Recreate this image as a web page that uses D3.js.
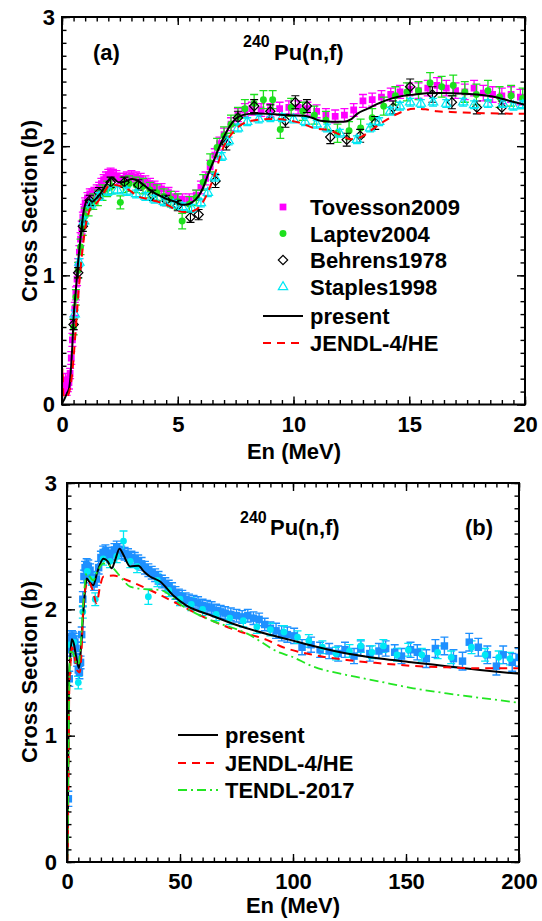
<!DOCTYPE html>
<html>
<head>
<meta charset="utf-8">
<script src="https://cdn.jsdelivr.net/npm/d3@7"></script>
<style>
body { margin: 0; background: #fff; }
text { font-family: "Liberation Sans", Arial, sans-serif; font-weight: bold; }
</style>
</head>
<body>
<div id="chart"></div>
<script>
// ---------- panel (a): 240Pu(n,f) up to 20 MeV ----------
var xTicksA = [0, 5, 10, 15, 20];
var yTicksA = [0, 1, 2, 3];

var tovE = [0.05,0.1,0.15,0.2,0.25,0.3,0.35,0.4,0.45,0.5,
  0.55,0.6,0.65,0.7,0.75,0.8,0.85,0.9,0.95,1.0,
  1.1,1.2,1.3,1.4,1.5,1.6,1.7,1.8,1.9,2.0,
  2.1,2.2,2.35,2.5,2.65,2.8,3.0,3.2,3.4,3.6,
  3.8,4.0,4.3,4.6,4.9,5.2,5.5,5.8,6.0,6.2,
  6.4,6.6,6.8,7.0,7.3,7.6,7.9,8.2,8.6,9.0,
  9.4,9.8,10.2,10.6,11.0,11.4,11.8,12.2,12.6,13.0,
  13.4,13.8,14.2,14.6,15.0,15.4,15.8,16.2,16.6,17.0,
  17.4,17.8,18.2,18.6,19.0,19.4,19.8];
var tovS = [0.15,0.12,0.19,0.11,0.15,0.17,0.24,0.36,0.50,0.63,
  0.74,0.86,0.97,1.08,1.18,1.28,1.37,1.45,1.51,1.56,
  1.60,1.63,1.63,1.64,1.66,1.68,1.71,1.74,1.76,1.78,
  1.79,1.78,1.77,1.75,1.75,1.76,1.77,1.76,1.75,1.73,
  1.71,1.69,1.67,1.64,1.61,1.59,1.59,1.62,1.68,1.75,
  1.84,1.93,2.02,2.09,2.17,2.24,2.28,2.29,2.28,2.28,
  2.29,2.30,2.30,2.29,2.27,2.24,2.23,2.24,2.28,2.35,
  2.36,2.38,2.40,2.42,2.44,2.43,2.45,2.47,2.45,2.43,
  2.42,2.45,2.41,2.40,2.39,2.40,2.38];
var tovErr = [0.05,0.04,0.05,0.04,0.05,0.05,0.04,0.05,0.05,0.05,
  0.05,0.05,0.05,0.05,0.05,0.05,0.05,0.04,0.04,0.04,
  0.04,0.04,0.04,0.04,0.04,0.04,0.04,0.04,0.04,0.04,
  0.04,0.04,0.04,0.04,0.04,0.04,0.04,0.04,0.04,0.04,
  0.04,0.04,0.04,0.04,0.04,0.04,0.04,0.04,0.05,0.05,
  0.05,0.05,0.05,0.05,0.05,0.05,0.05,0.05,0.05,0.05,
  0.05,0.05,0.05,0.05,0.05,0.05,0.05,0.05,0.05,0.05,
  0.05,0.05,0.05,0.05,0.05,0.06,0.06,0.06,0.06,0.06,
  0.06,0.06,0.06,0.06,0.06,0.06,0.06];

var lapE = [0.5,0.6,0.7,0.8,0.9,1.0,1.15,1.35,1.55,1.75,
  1.95,2.15,2.52,2.65,2.9,3.2,3.5,3.8,4.1,4.4,
  4.7,5.0,5.19,5.5,5.8,6.1,6.4,6.7,7.0,7.3,
  7.6,7.9,8.3,8.7,9.1,9.43,9.9,10.4,10.9,11.4,
  11.9,12.4,12.9,13.4,13.9,14.4,14.9,15.4,15.9,16.4,
  16.9,17.4,17.9,18.4,18.9,19.4,19.9];
var lapS = [0.60,0.83,1.04,1.22,1.37,1.46,1.52,1.57,1.60,1.64,
  1.67,1.69,1.565,1.70,1.71,1.70,1.69,1.66,1.64,1.61,
  1.59,1.57,1.42,1.55,1.60,1.72,1.87,1.99,2.08,2.17,
  2.23,2.29,2.33,2.36,2.36,2.13,2.30,2.27,2.24,2.20,
  2.10,2.12,2.14,2.22,2.31,2.39,2.42,2.43,2.49,2.46,
  2.47,2.42,2.40,2.43,2.38,2.39,2.37];
var lapErr = [0.06,0.06,0.06,0.06,0.06,0.06,0.06,0.06,0.06,0.06,
  0.06,0.06,0.05,0.06,0.06,0.06,0.06,0.06,0.06,0.06,
  0.06,0.06,0.06,0.06,0.06,0.06,0.07,0.07,0.07,0.07,
  0.07,0.07,0.07,0.07,0.07,0.07,0.07,0.07,0.07,0.07,
  0.07,0.07,0.07,0.07,0.07,0.07,0.07,0.07,0.08,0.08,
  0.08,0.08,0.08,0.08,0.08,0.08,0.08];

var behE = [0.5,0.7,0.9,1.2,1.6,2.1,2.7,3.3,3.9,4.5,
  5.0,5.55,5.9,6.63,7.1,7.6,8.3,9.0,9.65,10.08,
  10.58,11.59,12.3,12.88,13.53,14.3,15.04,16.0,16.84,17.92,19.0];
var behS = [0.62,1.02,1.38,1.58,1.64,1.72,1.72,1.70,1.62,1.58,
  1.54,1.45,1.47,1.73,2.02,2.22,2.31,2.27,2.196,2.34,
  2.31,2.07,2.05,2.08,2.18,2.30,2.46,2.40,2.34,2.30,2.30];
var behErr = [0.04,0.04,0.04,0.04,0.04,0.04,0.04,0.04,0.04,0.04,
  0.04,0.04,0.04,0.05,0.05,0.05,0.05,0.05,0.05,0.05,
  0.05,0.05,0.05,0.05,0.05,0.05,0.06,0.06,0.05,0.05,0.05];

var staE = [0.55,0.75,0.95,1.25,1.6,2.0,2.4,2.8,3.2,3.6,
  4.0,4.4,4.8,5.2,5.6,6.0,6.3,6.6,6.9,7.2,
  7.6,8.0,8.5,9.0,9.5,10.0,10.5,11.0,11.45,12.0,
  12.74,13.31,13.7,14.18,14.6,15.04,15.5,16.03,16.6,17.33,
  17.8,18.4,19.05,19.5,19.9];
var staS = [0.70,1.10,1.42,1.55,1.61,1.65,1.66,1.65,1.63,1.61,
  1.59,1.57,1.55,1.53,1.52,1.56,1.64,1.76,1.92,2.04,
  2.14,2.19,2.21,2.22,2.22,2.21,2.19,2.17,2.14,2.10,
  2.05,2.14,2.19,2.27,2.31,2.34,2.33,2.34,2.33,2.34,
  2.32,2.33,2.33,2.31,2.32];
var staErr = [0.03,0.03,0.03,0.03,0.03,0.03,0.03,0.03,0.03,0.03,
  0.03,0.03,0.03,0.03,0.03,0.03,0.03,0.03,0.03,0.03,
  0.03,0.03,0.03,0.03,0.03,0.03,0.03,0.03,0.03,0.03,
  0.03,0.03,0.03,0.03,0.03,0.03,0.03,0.03,0.03,0.03,
  0.03,0.03,0.03,0.03,0.03];

var presAE = [0,0.1,0.22,0.3,0.45,0.5,0.6,0.7,0.8,0.94,
  1.02,1.08,1.16,1.3,1.45,1.65,1.9,2.16,2.3,2.45,
  2.7,3.03,3.3,3.6,3.96,4.3,4.54,4.9,5.19,5.45,
  5.62,5.91,6.1,6.26,6.55,6.91,7.2,7.49,7.8,8.07,
  8.5,8.92,9.3,9.65,10.0,10.43,10.8,11.16,11.6,12.17,
  12.5,12.75,13.2,13.75,14.25,14.75,15.25,15.76,16.3,16.91,
  17.4,17.92,18.6,19.35,20];
var presAS = [0.01,0.04,0.09,0.12,0.47,0.67,0.89,1.11,1.29,1.5,
  1.56,1.58,1.59,1.57,1.59,1.63,1.70,1.757,1.74,1.72,
  1.725,1.745,1.73,1.69,1.64,1.61,1.59,1.57,1.546,1.55,
  1.565,1.616,1.68,1.757,1.886,2.04,2.14,2.21,2.24,2.25,
  2.252,2.25,2.245,2.24,2.238,2.235,2.22,2.196,2.19,2.19,
  2.21,2.25,2.29,2.337,2.37,2.39,2.40,2.41,2.412,2.41,
  2.405,2.40,2.385,2.35,2.32];

var jendlAE = [0,0.02,0.06,0.12,0.2,0.3,0.4,0.5,0.6,0.7,
  0.8,0.9,1.0,1.1,1.23,1.45,1.75,2.01,2.3,2.53,
  2.9,3.24,3.7,4.25,4.6,4.97,5.3,5.69,6.12,6.55,
  6.97,7.35,7.78,8.3,8.92,9.28,9.8,10.3,10.87,11.59,
  12.0,12.46,12.9,13.33,13.8,14.32,14.75,15.18,15.7,16.2,
  16.8,17.34,18.33,19.2,20];
var jendlAS = [0.0,0.28,0.08,0.05,0.06,0.09,0.18,0.36,0.60,0.84,
  1.05,1.22,1.36,1.45,1.52,1.55,1.62,1.69,1.70,1.69,
  1.66,1.615,1.59,1.564,1.54,1.50,1.49,1.50,1.577,1.757,
  1.99,2.10,2.17,2.20,2.21,2.21,2.20,2.18,2.14,2.12,
  2.09,2.054,2.07,2.12,2.18,2.235,2.27,2.29,2.285,2.27,
  2.265,2.26,2.255,2.252,2.25];

// ---------- panel (b): 240Pu(n,f) up to 200 MeV ----------
var xTicksB = [0, 50, 100, 150, 200];
var yTicksB = [0, 1, 2, 3];

var blueE = [0.6,1.0,1.4,1.8,2.2,2.6,3.0,3.5,4.0,4.5,
  5.0,5.5,6.0,6.5,7.0,7.5,8.0,8.7,9.4,10.2,
  11,12,13,14,15,16,17,18,19,20,
  21,22,23,24,25.5,27,28.5,30,31.5,33,
  34.5,36,37.5,39,40.5,42,43.5,45,46.5,48,
  49.5,51,52.5,54,56,58,60,62,64,66,
  68,70,72.5,75,77.5,80,82.5,85,87.5,90,
  92.5,95,97.5,100.5,104,108,112,116,120,123,
  127,130,134,138,141,145,148,152,155,159,
  163,167,171,175,178,182,186,190,193,197,200];
var blueS = [0.5,1.45,1.68,1.76,1.78,1.77,1.76,1.74,1.69,1.60,
  1.52,1.50,1.58,1.80,2.08,2.26,2.33,2.35,2.34,2.31,
  2.25,2.20,2.24,2.33,2.41,2.45,2.46,2.44,2.42,2.44,
  2.47,2.49,2.47,2.45,2.44,2.43,2.41,2.40,2.38,2.36,
  2.33,2.31,2.29,2.27,2.25,2.22,2.20,2.18,2.16,2.13,
  2.11,2.10,2.08,2.07,2.06,2.05,2.03,2.02,2.01,1.99,
  1.98,1.97,1.96,1.95,1.94,1.95,1.93,1.92,1.88,1.85,
  1.83,1.81,1.80,1.79,1.70,1.72,1.68,1.67,1.65,1.68,
  1.63,1.69,1.65,1.67,1.69,1.66,1.63,1.68,1.66,1.61,
  1.69,1.71,1.61,1.59,1.74,1.70,1.64,1.55,1.64,1.58,1.62];
var blueErr = [0.06,0.06,0.05,0.05,0.05,0.05,0.05,0.05,0.05,0.05,
  0.05,0.05,0.05,0.06,0.06,0.05,0.05,0.05,0.05,0.05,
  0.05,0.05,0.05,0.05,0.05,0.05,0.05,0.05,0.05,0.05,
  0.05,0.05,0.05,0.05,0.05,0.05,0.05,0.05,0.05,0.05,
  0.05,0.05,0.05,0.05,0.05,0.05,0.05,0.05,0.05,0.05,
  0.05,0.05,0.05,0.05,0.05,0.05,0.05,0.05,0.05,0.05,
  0.05,0.05,0.05,0.05,0.05,0.05,0.05,0.05,0.05,0.05,
  0.06,0.06,0.06,0.06,0.06,0.06,0.06,0.06,0.06,0.06,
  0.06,0.06,0.06,0.06,0.06,0.06,0.06,0.06,0.06,0.07,
  0.07,0.07,0.07,0.07,0.07,0.07,0.07,0.07,0.07,0.07,0.07];

var cyanE = [1.5,3,5,7,9,11,12.5,16,19,22,
  25,28,31,36,40,45,50,55,60,66,
  72,78,84,90,96,102,107,113,119,125,
  130,135,140,146,151,157,164,170,179,185,191,196];
var cyanS = [1.72,1.74,1.42,1.98,2.30,2.24,2.08,2.40,2.38,2.42,
  2.54,2.38,2.34,2.10,2.23,2.15,2.08,2.04,2.00,1.96,
  1.93,1.91,1.86,1.84,1.82,1.78,1.75,1.70,1.65,1.67,
  1.71,1.66,1.71,1.64,1.68,1.64,1.66,1.62,1.70,1.64,1.62,1.61];
var cyanErr = [0.05,0.05,0.05,0.05,0.05,0.05,0.05,0.05,0.05,0.05,
  0.08,0.05,0.05,0.06,0.05,0.05,0.05,0.05,0.05,0.05,
  0.05,0.05,0.05,0.05,0.05,0.05,0.05,0.05,0.05,0.05,
  0.05,0.05,0.05,0.05,0.05,0.05,0.05,0.05,0.05,0.05,0.05,0.05];

var presBE = [0,0.3,0.5,0.8,1.0,1.3,2.07,3.0,4.0,5.3,
  6.3,7.2,8.0,8.7,9.8,11.6,13.5,16.1,18.0,19.8,
  21.5,23.2,25.0,27.9,31.6,34.0,36.7,41.2,47,52.9,
  63.3,75,88.4,98.7,109,123.8,138.5,153.2,168,182.7,200];
var presBS = [0,0.12,0.67,1.29,1.52,1.58,1.763,1.73,1.63,1.535,
  1.72,1.97,2.15,2.245,2.22,2.19,2.30,2.40,2.38,2.325,
  2.40,2.48,2.43,2.34,2.345,2.30,2.26,2.22,2.11,2.03,
  1.955,1.876,1.805,1.758,1.71,1.65,1.61,1.58,1.55,1.52,1.49];

var jendlBE = [0,0.3,0.6,1.0,1.5,2.2,3.2,4.6,5.6,6.3,
  7.2,8.2,9.4,11.2,13.1,14.6,16.1,20.5,26.4,36.7,
  48.5,63.3,76.5,88.4,94.2,109,123.8,138.5,153.2,168,182.7,200];
var jendlBS = [0,0.1,0.6,1.36,1.55,1.70,1.63,1.515,1.50,1.62,
  2.02,2.17,2.22,2.16,2.048,2.18,2.259,2.267,2.232,2.153,
  2.048,1.916,1.824,1.758,1.71,1.639,1.599,1.573,1.552,1.541,1.533,1.533];

var tendlBE = [0,0.3,0.7,1.33,2.5,3.5,5.0,6.0,7.2,8.7,
  10.0,11.6,13.5,16.1,20.5,24,27.9,34,41.2,51.5,
  63.3,79.5,94.2,98.7,109,123.8,138.5,153.2,168,182.7,200];
var tendlBS = [0,0.15,0.9,1.665,1.66,1.60,1.56,1.70,2.048,2.285,
  2.26,2.23,2.30,2.364,2.325,2.25,2.18,2.16,2.153,2.022,
  1.916,1.81,1.657,1.63,1.547,1.48,1.428,1.375,1.335,1.30,1.261];

// ---------- drawing ----------
var W = 542, H = 921;
var FS = 22;
var svg = d3.select("#chart").append("svg")
  .attr("width", W).attr("height", H)
  .style("background", "#fff");

function rows(E, S, err) {
  var n = Math.min(E.length, S.length);
  var out = [];
  for (var i = 0; i < n; i++) out.push({ e: E[i], s: S[i], d: err ? err[i] : 0 });
  return out;
}

function makePanel(id, box, xDom, yDom, xMajor, xMinorStep, yMajor, ypad) {
  var w = box.r - box.l, h = box.b - box.t;
  var g = svg.append("g").attr("transform", "translate(" + box.l + "," + box.t + ")");
  var x = d3.scaleLinear().domain(xDom).range([0, w]);
  var y = d3.scaleLinear().domain(yDom).range([h, 0]);

  g.append("clipPath").attr("id", id).append("rect")
    .attr("width", w).attr("height", h);

  var xMinor = d3.range(xDom[0], xDom[1] + 1e-9, xMinorStep);
  var yMinor = d3.range(0, 3.0001, 0.1);

  function axisStyle(sel) {
    sel.select(".domain").remove();
    sel.selectAll("line").attr("stroke", "#000").attr("stroke-width", 1.4);
    sel.attr("font-size", FS).attr("font-family", "Liberation Sans, Arial, sans-serif")
      .attr("font-weight", "bold");
    sel.selectAll("text").attr("fill", "#000");
  }
  // minor ticks on four sides
  g.append("g").attr("transform", "translate(0," + h + ")")
    .call(d3.axisBottom(x).tickValues(xMinor).tickSize(-4.5).tickFormat("")).call(axisStyle);
  g.append("g")
    .call(d3.axisTop(x).tickValues(xMinor).tickSize(-4.5).tickFormat("")).call(axisStyle);
  g.append("g")
    .call(d3.axisLeft(y).tickValues(yMinor).tickSize(-4.5).tickFormat("")).call(axisStyle);
  g.append("g").attr("transform", "translate(" + w + ",0)")
    .call(d3.axisRight(y).tickValues(yMinor).tickSize(-4.5).tickFormat("")).call(axisStyle);
  // major ticks
  g.append("g").attr("transform", "translate(0," + h + ")")
    .call(d3.axisBottom(x).tickValues(xMajor).tickSize(-8).tickPadding(ypad.x).tickFormat(d3.format("d"))).call(axisStyle);
  g.append("g")
    .call(d3.axisTop(x).tickValues(xMajor).tickSize(-8).tickFormat("")).call(axisStyle);
  g.append("g")
    .call(d3.axisLeft(y).tickValues(yMajor).tickSize(-8).tickPadding(ypad.y).tickFormat(d3.format("d"))).call(axisStyle);
  g.append("g").attr("transform", "translate(" + w + ",0)")
    .call(d3.axisRight(y).tickValues(yMajor).tickSize(-8).tickFormat("")).call(axisStyle);

  var plot = g.append("g").attr("clip-path", "url(#" + id + ")");
  var over = g.append("g");
  over.append("rect").attr("width", w).attr("height", h)
    .attr("fill", "none").attr("stroke", "#000").attr("stroke-width", 2);

  return { g: g, plot: plot, x: x, y: y, w: w, h: h };
}

function errorBars(p, data, color, cap, sw) {
  p.plot.append("g").selectAll("path").data(data).enter().append("path")
    .attr("fill", "none").attr("stroke", color).attr("stroke-width", sw || 1.3)
    .attr("d", function (d) {
      var cx = p.x(d.e), y1 = p.y(d.s - d.d), y2 = p.y(d.s + d.d);
      return "M" + cx + "," + y1 + "V" + y2 +
        "M" + (cx - cap) + "," + y1 + "H" + (cx + cap) +
        "M" + (cx - cap) + "," + y2 + "H" + (cx + cap);
    });
}

function markers(p, data, sym, size, fill, stroke, rot) {
  p.plot.append("g").selectAll("path").data(data).enter().append("path")
    .attr("d", d3.symbol().type(sym).size(size))
    .attr("transform", function (d) {
      return "translate(" + p.x(d.e) + "," + p.y(d.s) + ")" + (rot ? " rotate(" + rot + ")" : "");
    })
    .attr("fill", fill).attr("stroke", stroke).attr("stroke-width", stroke === "none" ? 0 : 1.2);
}

function curve(p, E, S, color, dash, sw) {
  var line = d3.line().x(function (d) { return p.x(d.e); }).y(function (d) { return p.y(d.s); })
    .curve(d3.curveMonotoneX);
  p.plot.append("path").datum(rows(E, S))
    .attr("d", line).attr("fill", "none").attr("stroke", color)
    .attr("stroke-width", sw || 2).attr("stroke-dasharray", dash || null);
}

function label(x, y, txt, size, anchor, rot) {
  var t = svg.append("text").attr("font-size", size || FS).attr("fill", "#000")
    .attr("text-anchor", anchor || "start").text(txt);
  if (rot) t.attr("transform", "translate(" + x + "," + y + ") rotate(" + rot + ")");
  else t.attr("x", x).attr("y", y);
  return t;
}

var MAG = "#ff00ff", GRN = "#1ee01e", CYN = "#00e8f4", BLU = "#1e90ff", LIME = "#22e622";

// ===== panel (a) =====
var A = makePanel("clipA", { l: 62, t: 17, r: 525, b: 404.5 }, [0, 20], [0, 3],
  xTicksA, 0.5, yTicksA, { x: 12, y: 7 });

var tov = rows(tovE, tovS, tovErr), lap = rows(lapE, lapS, lapErr),
    beh = rows(behE, behS, behErr), sta = rows(staE, staS, staErr);
errorBars(A, tov, MAG, 4);
markers(A, tov, d3.symbolSquare, 46, MAG, "none");
errorBars(A, lap, GRN, 4);
markers(A, lap, d3.symbolCircle, 38, GRN, "none");
errorBars(A, beh, "#000", 4, 1.1);
markers(A, beh, d3.symbolSquare, 44, "none", "#000", 45);
errorBars(A, sta, CYN, 4);
markers(A, sta, d3.symbolTriangle, 38, "none", CYN);
curve(A, presAE, presAS, "#000", null, 2);
curve(A, jendlAE, jendlAS, "#ff0000", "8,6", 2);

// titles (a)
label(93, 60, "(a)");
label(243, 46.5, "240", 16);
label(274, 60, "Pu(n,f)");
label(294, 459, "En (MeV)", FS, "middle");
label(37, 211, "Cross Section (b)", FS, "middle", -90);

// legend (a)
var legA = [
  { y: 207, name: "Tovesson2009", sym: d3.symbolSquare, size: 46, fill: MAG, stroke: "none" },
  { y: 233.5, name: "Laptev2004", sym: d3.symbolCircle, size: 38, fill: GRN, stroke: "none" },
  { y: 260, name: "Behrens1978", sym: d3.symbolSquare, size: 44, fill: "none", stroke: "#000", rot: 45 },
  { y: 287, name: "Staples1998", sym: d3.symbolTriangle, size: 38, fill: "none", stroke: CYN }
];
legA.forEach(function (d) {
  svg.append("path").attr("d", d3.symbol().type(d.sym).size(d.size))
    .attr("transform", "translate(283," + d.y + ")" + (d.rot ? " rotate(" + d.rot + ")" : ""))
    .attr("fill", d.fill).attr("stroke", d.stroke).attr("stroke-width", d.stroke === "none" ? 0 : 1.2);
  label(310, d.y + 8, d.name);
});
var legLinesA = [
  { y: 316, name: "present", color: "#000", dash: null },
  { y: 343, name: "JENDL-4/HE", color: "#ff0000", dash: "8,6" }
];
legLinesA.forEach(function (d) {
  svg.append("line").attr("x1", 263).attr("x2", 303).attr("y1", d.y).attr("y2", d.y)
    .attr("stroke", d.color).attr("stroke-width", 2).attr("stroke-dasharray", d.dash);
  label(310, d.y + 8, d.name);
});

// ===== panel (b) =====
var B = makePanel("clipB", { l: 67, t: 483, r: 519, b: 862 }, [0, 200], [0, 3],
  xTicksB, 5, yTicksB, { x: 11, y: 10 });

var blue = rows(blueE, blueS, blueErr), cyan = rows(cyanE, cyanS, cyanErr);
errorBars(B, blue, BLU, 4, 1.4);
errorBars(B, cyan, CYN, 4, 1.3);
markers(B, blue, d3.symbolSquare, 56, BLU, "none");
markers(B, cyan, d3.symbolCircle, 36, CYN, "none");
curve(B, presBE, presBS, "#000", null, 2);
curve(B, jendlBE, jendlBS, "#ff0000", "8,6", 2);
curve(B, tendlBE, tendlBS, LIME, "9,4,2,4", 1.8);

label(240, 523, "240", 16);
label(270, 535, "Pu(n,f)");
label(465, 535, "(b)");
label(293, 913, "En (MeV)", FS, "middle");
label(37, 672, "Cross Section (b)", FS, "middle", -90);

var legB = [
  { y: 735, name: "present", color: "#000", dash: null, sw: 2 },
  { y: 763, name: "JENDL-4/HE", color: "#ff0000", dash: "8,6", sw: 2 },
  { y: 790, name: "TENDL-2017", color: LIME, dash: "9,4,2,4", sw: 1.8 }
];
legB.forEach(function (d) {
  svg.append("line").attr("x1", 178).attr("x2", 218).attr("y1", d.y).attr("y2", d.y)
    .attr("stroke", d.color).attr("stroke-width", d.sw).attr("stroke-dasharray", d.dash);
  label(225, d.y + 8, d.name);
});
</script>
</body>
</html>
